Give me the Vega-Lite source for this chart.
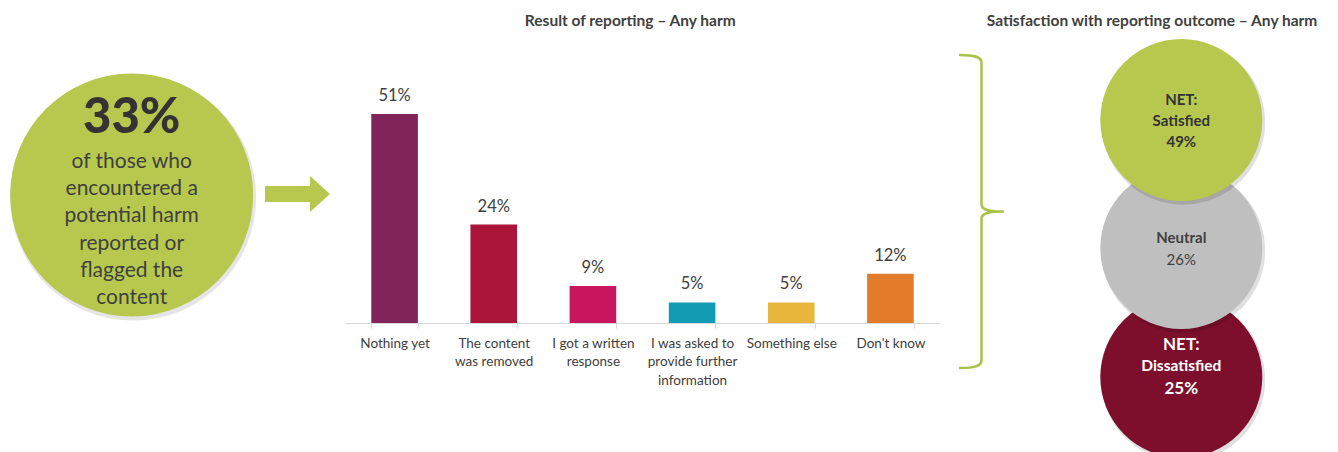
{
  "$schema": "https://vega.github.io/schema/vega-lite/v6.json",
  "padding": 0,
  "background": "#ffffff",
  "spacing": 0,
  "bounds": "flush",
  "config": {"view": {"stroke": null}, "font": "Lato", "text": {"color": "#404040"}},
  "datasets": {
    "outcomes": [
      {"outcome": "Nothing yet", "share": 0.51},
      {"outcome": "The content was removed", "share": 0.24},
      {"outcome": "I got a written response", "share": 0.09},
      {"outcome": "I was asked to provide further information", "share": 0.05},
      {"outcome": "Something else", "share": 0.05},
      {"outcome": "Don't know", "share": 0.12}
    ],
    "satisfaction": [
      {"group": "NET: Satisfied", "share": 0.49},
      {"group": "Neutral", "share": 0.26},
      {"group": "NET: Dissatisfied", "share": 0.25}
    ],
    "reported": [{"measure": "Reported or flagged the content", "share": 0.33}]
  },
  "hconcat": [
    {
      "width": 345,
      "height": 452,
      "data": {"name": "reported"},
      "layer": [
        {
          "mark": {"type": "point", "shape": "circle", "filled": true, "size": 60516, "color": "#000000", "opacity": 0.1, "strokeWidth": 0},
          "encoding": {
            "x": {"datum": 38.6, "type": "quantitative", "scale": {"domain": [0, 100], "nice": false}, "axis": null},
            "y": {"datum": 43.7, "type": "quantitative", "scale": {"domain": [0, 100], "nice": false, "reverse": true}, "axis": null}
          }
        },
        {
          "mark": {"type": "point", "shape": "circle", "filled": true, "size": 59049, "color": "#b6c94e", "opacity": 1, "strokeWidth": 0},
          "encoding": {
            "x": {"datum": 38.17, "type": "quantitative"},
            "y": {"datum": 43.14, "type": "quantitative"}
          }
        },
        {
          "mark": {"type": "text", "fontSize": 49, "fontWeight": 900, "color": "#333333", "align": "center", "baseline": "alphabetic"},
          "encoding": {
            "x": {"datum": 38.17, "type": "quantitative"},
            "y": {"datum": 29.42, "type": "quantitative"},
            "text": {"field": "share", "type": "quantitative", "format": ".0%"}
          }
        },
        {
          "mark": {"type": "text", "fontSize": 21, "lineHeight": 27.3, "align": "center", "baseline": "middle", "color": "#404040",
            "text": ["of those who", "encountered a", "potential harm", "reported or", "flagged the", "content"]},
          "encoding": {
            "x": {"datum": 38.17, "type": "quantitative"},
            "y": {"datum": 35.77, "type": "quantitative"}
          }
        },
        {
          "mark": {"type": "point", "shape": "M-1,-0.246L0.385,-0.246L0.385,-0.554L1,0L0.385,0.554L0.385,0.246L-1,0.246Z", "filled": true, "size": 4225, "color": "#b6c94e", "opacity": 1, "strokeWidth": 0},
          "encoding": {
            "x": {"datum": 86.23, "type": "quantitative"},
            "y": {"datum": 42.92, "type": "quantitative"}
          }
        }
      ]
    },
    {
      "width": 595,
      "height": 323,
      "data": {"name": "outcomes"},
      "layer": [
        {
          "mark": {"type": "bar"},
          "encoding": {
            "x": {
              "field": "outcome", "type": "nominal",
              "scale": {"domain": ["Nothing yet", "The content was removed", "I got a written response", "I was asked to provide further information", "Something else", "Don't know"], "paddingInner": 0.53, "paddingOuter": 0.265},
              "axis": {
                "title": null, "labelAngle": 0, "labelFontSize": 13.5, "labelColor": "#404040", "labelLineHeight": 18.5,
                "labelPadding": 8, "labelBaseline": "top", "labelLimit": 0, "tickSize": 5, "tickColor": "#d9d9d9", "domainColor": "#d9d9d9",
                "tickBand": "extent", "grid": false,
                "labelExpr": "datum.label == 'The content was removed' ? ['The content', 'was removed'] : datum.label == 'I got a written response' ? ['I got a written', 'response'] : datum.label == 'I was asked to provide further information' ? ['I was asked to', 'provide further', 'information'] : datum.label"
              }
            },
            "y": {"field": "share", "type": "quantitative", "scale": {"domain": [0, 0.7878], "nice": false}, "axis": null},
            "color": {
              "field": "outcome", "type": "nominal",
              "scale": {"domain": ["Nothing yet", "The content was removed", "I got a written response", "I was asked to provide further information", "Something else", "Don't know"],
                        "range": ["#80245a", "#ab1539", "#c8155d", "#119cb3", "#e8b63a", "#e27b2a"]},
              "legend": null
            }
          }
        },
        {
          "mark": {"type": "text", "fontSize": 16.5, "color": "#404040", "baseline": "bottom", "dy": -10},
          "encoding": {
            "x": {"field": "outcome", "type": "nominal"},
            "y": {"field": "share", "type": "quantitative"},
            "text": {"field": "share", "type": "quantitative", "format": ".0%"}
          }
        },
        {
          "data": {"values": [{}]},
          "mark": {"type": "text", "fontSize": 15.5, "fontWeight": "bold", "color": "#404040", "align": "center", "baseline": "middle", "dx": -38.5, "text": "Result of reporting – Any harm"},
          "encoding": {
            "x": {"datum": "I was asked to provide further information", "type": "nominal", "bandPosition": 0},
            "y": {"datum": 0.7366, "type": "quantitative"}
          }
        }
      ]
    },
    {
      "width": 398,
      "height": 452,
      "data": {"name": "satisfaction"},
      "layer": [
        {
          "data": {"values": [{}]},
          "mark": {"type": "text", "fontSize": 15.5, "fontWeight": "bold", "color": "#404040", "align": "center", "baseline": "middle", "text": "Satisfaction with reporting outcome – Any harm"},
          "encoding": {
            "x": {"datum": 53.27, "type": "quantitative", "scale": {"domain": [0, 100], "nice": false}, "axis": null},
            "y": {"datum": 4.65, "type": "quantitative", "scale": {"domain": [0, 100], "nice": false, "reverse": true}, "axis": null}
          }
        },
        {
          "data": {"values": [{}]},
          "mark": {"type": "point", "shape": "M-0.137,-1C-0.05,-1 0,-0.99 0,-0.95L0,-0.045C0,-0.01 0.05,0 0.137,0M0.137,0C0.05,0 0,0.01 0,0.045L0,0.95C0,0.99 -0.05,1 -0.137,1",
            "filled": false, "size": 97969, "stroke": "#a9c248", "strokeWidth": 2.5, "opacity": 1, "strokeCap": "round"},
          "encoding": {
            "x": {"datum": 10.43, "type": "quantitative"},
            "y": {"datum": 46.79, "type": "quantitative"}
          }
        },
        {
          "transform": [{"filter": "datum.group == 'NET: Dissatisfied'"}],
          "mark": {"type": "point", "shape": "circle", "filled": true, "size": 26896, "color": "#000000", "opacity": 0.12, "strokeWidth": 0, "clip": true},
          "encoding": {
            "x": {"datum": 61.1, "type": "quantitative"},
            "y": {"datum": 84.0, "type": "quantitative"}
          }
        },
        {
          "transform": [{"filter": "datum.group == 'NET: Dissatisfied'"}],
          "mark": {"type": "point", "shape": "circle", "filled": true, "size": 26244, "color": "#7e0f2c", "opacity": 1, "strokeWidth": 0, "clip": true},
          "encoding": {
            "x": {"datum": 60.63, "type": "quantitative"},
            "y": {"datum": 83.41, "type": "quantitative"}
          }
        },
        {
          "transform": [{"filter": "datum.group == 'Neutral'"}],
          "mark": {"type": "point", "shape": "circle", "filled": true, "size": 26896, "color": "#000000", "opacity": 0.12, "strokeWidth": 0},
          "encoding": {
            "x": {"datum": 61.1, "type": "quantitative"},
            "y": {"datum": 55.46, "type": "quantitative"}
          }
        },
        {
          "transform": [{"filter": "datum.group == 'Neutral'"}],
          "mark": {"type": "point", "shape": "circle", "filled": true, "size": 26244, "color": "#bfbfbf", "opacity": 1, "strokeWidth": 0},
          "encoding": {
            "x": {"datum": 60.63, "type": "quantitative"},
            "y": {"datum": 54.87, "type": "quantitative"}
          }
        },
        {
          "transform": [{"filter": "datum.group == 'NET: Satisfied'"}],
          "mark": {"type": "point", "shape": "circle", "filled": true, "size": 26896, "color": "#000000", "opacity": 0.12, "strokeWidth": 0},
          "encoding": {
            "x": {"datum": 61.1, "type": "quantitative"},
            "y": {"datum": 27.14, "type": "quantitative"}
          }
        },
        {
          "transform": [{"filter": "datum.group == 'NET: Satisfied'"}],
          "mark": {"type": "point", "shape": "circle", "filled": true, "size": 26244, "color": "#b6c94e", "opacity": 1, "strokeWidth": 0},
          "encoding": {
            "x": {"datum": 60.63, "type": "quantitative"},
            "y": {"datum": 26.55, "type": "quantitative"}
          }
        },
        {
          "transform": [{"filter": "datum.group == 'NET: Satisfied'"}],
          "mark": {"type": "text", "fontSize": 15, "fontWeight": "bold", "color": "#333333", "align": "center", "baseline": "middle", "lineHeight": 21, "text": ["NET:", "Satisfied"]},
          "encoding": {
            "x": {"datum": 60.63, "type": "quantitative"},
            "y": {"datum": 22.12, "type": "quantitative"}
          }
        },
        {
          "transform": [{"filter": "datum.group == 'NET: Satisfied'"}],
          "mark": {"type": "text", "fontSize": 15, "fontWeight": "bold", "color": "#333333", "align": "center", "baseline": "middle"},
          "encoding": {
            "x": {"datum": 60.63, "type": "quantitative"},
            "y": {"datum": 31.42, "type": "quantitative"},
            "text": {"field": "share", "type": "quantitative", "format": ".0%"}
          }
        },
        {
          "transform": [{"filter": "datum.group == 'Neutral'"}],
          "mark": {"type": "text", "fontSize": 15, "fontWeight": "bold", "color": "#404040", "align": "center", "baseline": "middle"},
          "encoding": {
            "x": {"datum": 60.63, "type": "quantitative"},
            "y": {"datum": 52.65, "type": "quantitative"},
            "text": {"field": "group", "type": "nominal"}
          }
        },
        {
          "transform": [{"filter": "datum.group == 'Neutral'"}],
          "mark": {"type": "text", "fontSize": 15, "color": "#404040", "align": "center", "baseline": "middle"},
          "encoding": {
            "x": {"datum": 60.63, "type": "quantitative"},
            "y": {"datum": 57.52, "type": "quantitative"},
            "text": {"field": "share", "type": "quantitative", "format": ".0%"}
          }
        },
        {
          "transform": [{"filter": "datum.group == 'NET: Dissatisfied'"}],
          "mark": {"type": "text", "fontSize": 17, "fontWeight": "bold", "color": "#ffffff", "align": "center", "baseline": "middle", "text": "NET:"},
          "encoding": {
            "x": {"datum": 60.63, "type": "quantitative"},
            "y": {"datum": 76.33, "type": "quantitative"}
          }
        },
        {
          "transform": [{"filter": "datum.group == 'NET: Dissatisfied'"}],
          "mark": {"type": "text", "fontSize": 15.5, "fontWeight": "bold", "color": "#ffffff", "align": "center", "baseline": "middle", "text": "Dissatisfied"},
          "encoding": {
            "x": {"datum": 60.63, "type": "quantitative"},
            "y": {"datum": 80.97, "type": "quantitative"}
          }
        },
        {
          "transform": [{"filter": "datum.group == 'NET: Dissatisfied'"}],
          "mark": {"type": "text", "fontSize": 17, "fontWeight": "bold", "color": "#ffffff", "align": "center", "baseline": "middle"},
          "encoding": {
            "x": {"datum": 60.63, "type": "quantitative"},
            "y": {"datum": 86.06, "type": "quantitative"},
            "text": {"field": "share", "type": "quantitative", "format": ".0%"}
          }
        }
      ]
    }
  ]
}
